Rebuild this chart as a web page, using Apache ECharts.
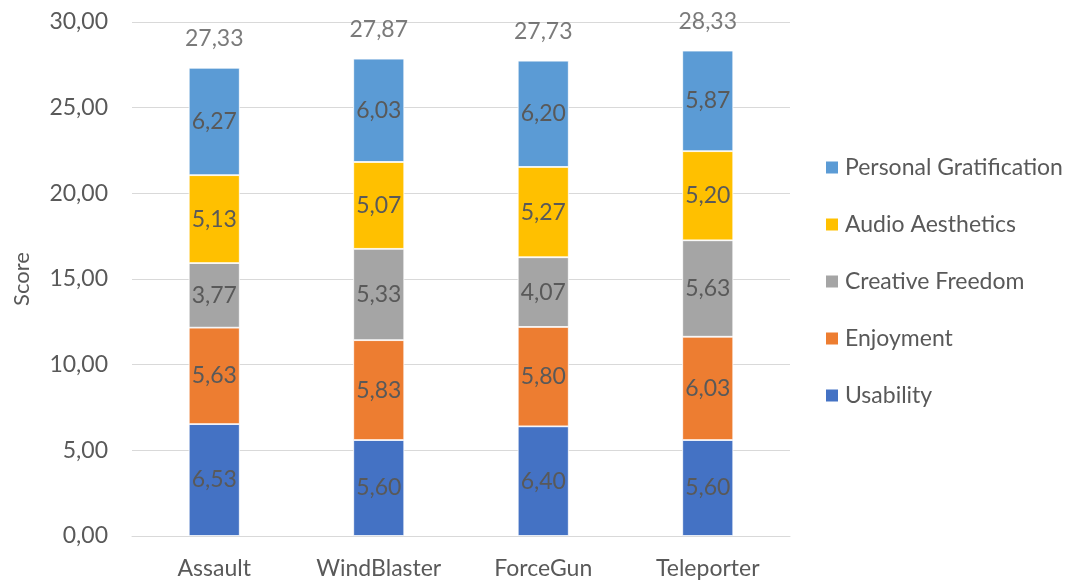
<!DOCTYPE html>
<html>
<head>
<meta charset="utf-8">
<script src="https://cdn.jsdelivr.net/npm/echarts@6/dist/echarts.min.js"></script>
<style>
  html, body { margin: 0; padding: 0; background: #fff; }
  #chart { width: 1078px; height: 583px; }
</style>
</head>
<body>
<div id="chart"></div>
<script>
// Scores per tool, one array per component
const categories = ['Assault', 'WindBlaster', 'ForceGun', 'Teleporter'];
const usability = [6.53, 5.60, 6.40, 5.60];
const enjoyment = [5.63, 5.83, 5.80, 6.03];
const creativeFreedom = [3.77, 5.33, 4.07, 5.63];
const audioAesthetics = [5.13, 5.07, 5.27, 5.20];
const personalGratification = [6.27, 6.03, 6.20, 5.87];
const totals = [27.33, 27.87, 27.73, 28.33];

const seriesNames = ['Usability', 'Enjoyment', 'Creative Freedom', 'Audio Aesthetics', 'Personal Gratification'];
const seriesValues = [usability, enjoyment, creativeFreedom, audioAesthetics, personalGratification];
const colors = ['#4472C4', '#ED7D31', '#A5A5A5', '#FFC000', '#5B9BD5'];

const FONT = 'Lato';
const TEXT = '#595959';
const SIZE = 23;
const fmt = v => v.toFixed(2).replace('.', ',');

const barSeries = seriesNames.map((name, i) => ({
  name,
  type: 'bar',
  stack: 'total',
  barWidth: '31%',
  data: seriesValues[i],
  itemStyle: { color: colors[i], borderColor: '#ffffff', borderWidth: 0.8 },
  label: {
    show: true,
    position: 'inside',
    color: TEXT,
    fontFamily: FONT,
    fontSize: SIZE,
    formatter: p => fmt(p.value)
  },
  emphasis: { disabled: true }
}));

// Totals shown above each stack
const totalSeries = {
  name: 'Total',
  type: 'scatter',
  data: totals,
  symbolSize: 1,
  itemStyle: { color: 'rgba(0,0,0,0)' },
  label: {
    show: true,
    position: 'top',
    distance: 17,
    color: TEXT,
    fontFamily: FONT,
    fontSize: SIZE,
    formatter: p => fmt(p.value)
  },
  z: 5,
  silent: true
};

const chart = echarts.init(document.getElementById('chart'));
chart.setOption({
  animation: false,
  textStyle: { fontFamily: FONT },
  grid: { left: 132, right: 288, top: 22, bottom: 47, containLabel: false, outerBoundsMode: 'none' },
  legend: {
    orient: 'vertical',
    left: 824,
    top: 156,
    padding: 0,
    itemWidth: 14,
    itemHeight: 14,
    itemGap: 34,
    icon: 'rect',
    data: seriesNames.slice().reverse(),
    textStyle: { color: TEXT, fontFamily: FONT, fontSize: SIZE, lineHeight: 23, padding: [0, 0, 0, 1] }
  },
  xAxis: {
    type: 'category',
    data: categories,
    axisLine: { lineStyle: { color: '#d9d9d9', width: 1 } },
    axisTick: { show: false },
    axisLabel: { color: TEXT, fontFamily: FONT, fontSize: SIZE, margin: 21 }
  },
  yAxis: {
    type: 'value',
    min: 0,
    max: 30,
    interval: 5,
    name: 'Score',
    nameLocation: 'middle',
    nameGap: 99,
    nameRotate: 90,
    nameTextStyle: { color: TEXT, fontFamily: FONT, fontSize: 22 },
    axisLine: { show: false },
    axisTick: { show: false },
    axisLabel: { color: TEXT, fontFamily: FONT, fontSize: SIZE, margin: 24, formatter: v => fmt(v) },
    splitLine: { lineStyle: { color: '#d9d9d9', width: 1 } }
  },
  series: [...barSeries, totalSeries]
});
</script>
</body>
</html>
